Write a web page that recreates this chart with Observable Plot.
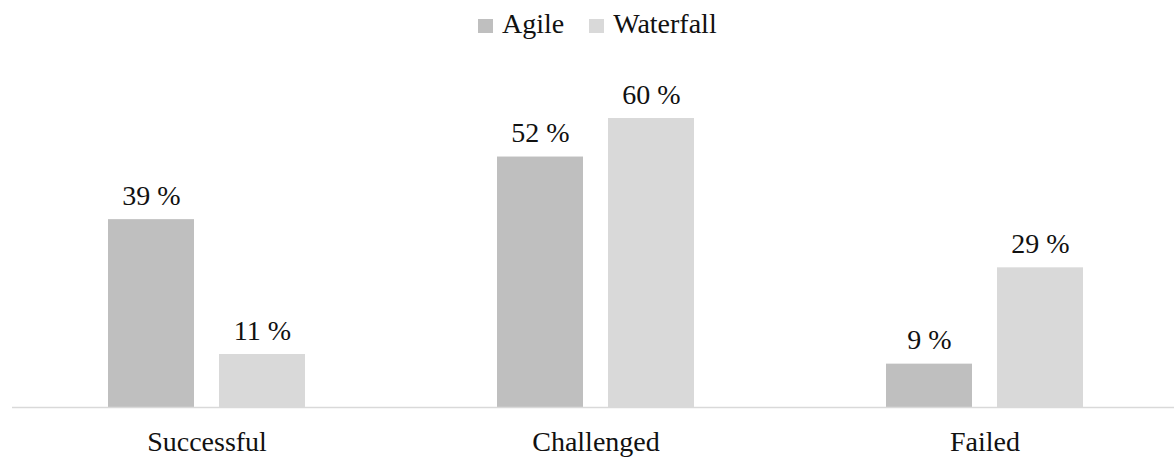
<!DOCTYPE html>
<html><head><meta charset="utf-8">
<script src="https://cdn.jsdelivr.net/npm/d3@7"></script>
<script src="https://cdn.jsdelivr.net/npm/@observablehq/plot@0.6"></script>
<style>
body{margin:0;background:#fff;}
#wrap{width:1174px;height:457px;overflow:hidden;position:relative;background:#fff}
#legend{position:relative;height:50px;}
#chart svg{display:block;max-width:none !important;}
</style></head>
<body>
<div id="wrap">
  <div id="legend"><div class="items" style="position:absolute;left:478px;top:8px;font-size:28px;line-height:32px;white-space:nowrap;color:#111;"></div></div>
  <div id="chart"></div>
</div>
<script>
const categories = ["Successful", "Challenged", "Failed"];
const series = ["Agile", "Waterfall"];
const agileValues = [39, 52, 9];
const waterfallValues = [11, 60, 29];
const seriesColors = ["#bfbfbf", "#d9d9d9"];

const FONT = "Liberation Serif";

const data = [];
categories.forEach((c, i) => {
  data.push({category: c, series: "Agile", value: agileValues[i]});
  data.push({category: c, series: "Waterfall", value: waterfallValues[i]});
});

// legend
const items = document.querySelector("#legend .items");
series.forEach((s, i) => {
  const sw = document.createElement("span");
  sw.style.cssText = `display:inline-block;width:15px;height:14px;vertical-align:baseline;margin-right:9px;background:${seriesColors[i]}`;
  const lab = document.createElement("span");
  lab.style.cssText = "margin-right:25px;font-size:28px;color:#111";
  lab.textContent = s;
  items.appendChild(sw);
  items.appendChild(lab);
});

const chart = Plot.plot({
  width: 1179,
  height: 407,
  marginLeft: 11,
  marginRight: 0,
  marginTop: 68,
  marginBottom: 50,
  style: {fontSize: "28px", background: "#fff", color: "#111", maxWidth: "none"},
  fx: {domain: categories, padding: 0, label: null},
  x: {domain: series, paddingInner: 0.223, paddingOuter: 0.85, axis: null},
  y: {domain: [0, 60], axis: null},
  color: {domain: series, range: seriesColors},
  marks: [
    Plot.barY(data, {fx: "category", x: "series", y: "value", fill: "series"}),
    Plot.ruleY([0], {stroke: "#d9d9d9", strokeWidth: 1.5}),
    Plot.text(data, {fx: "category", x: "series", y: "value", text: d => d.value + " %", dy: -15, lineAnchor: "bottom", fontSize: 28, fill: "#111"}),
    Plot.axisFx({anchor: "bottom", tickSize: 0, tickPadding: 24, fontSize: 28, label: null, fill: "#111"})
  ]
});
document.getElementById("chart").appendChild(chart);
document.querySelectorAll("#wrap, #wrap *").forEach(el => {
  el.style.setProperty("font-family", FONT, "important");
  el.setAttribute("font-family", FONT);
});
</script>
</body></html>
